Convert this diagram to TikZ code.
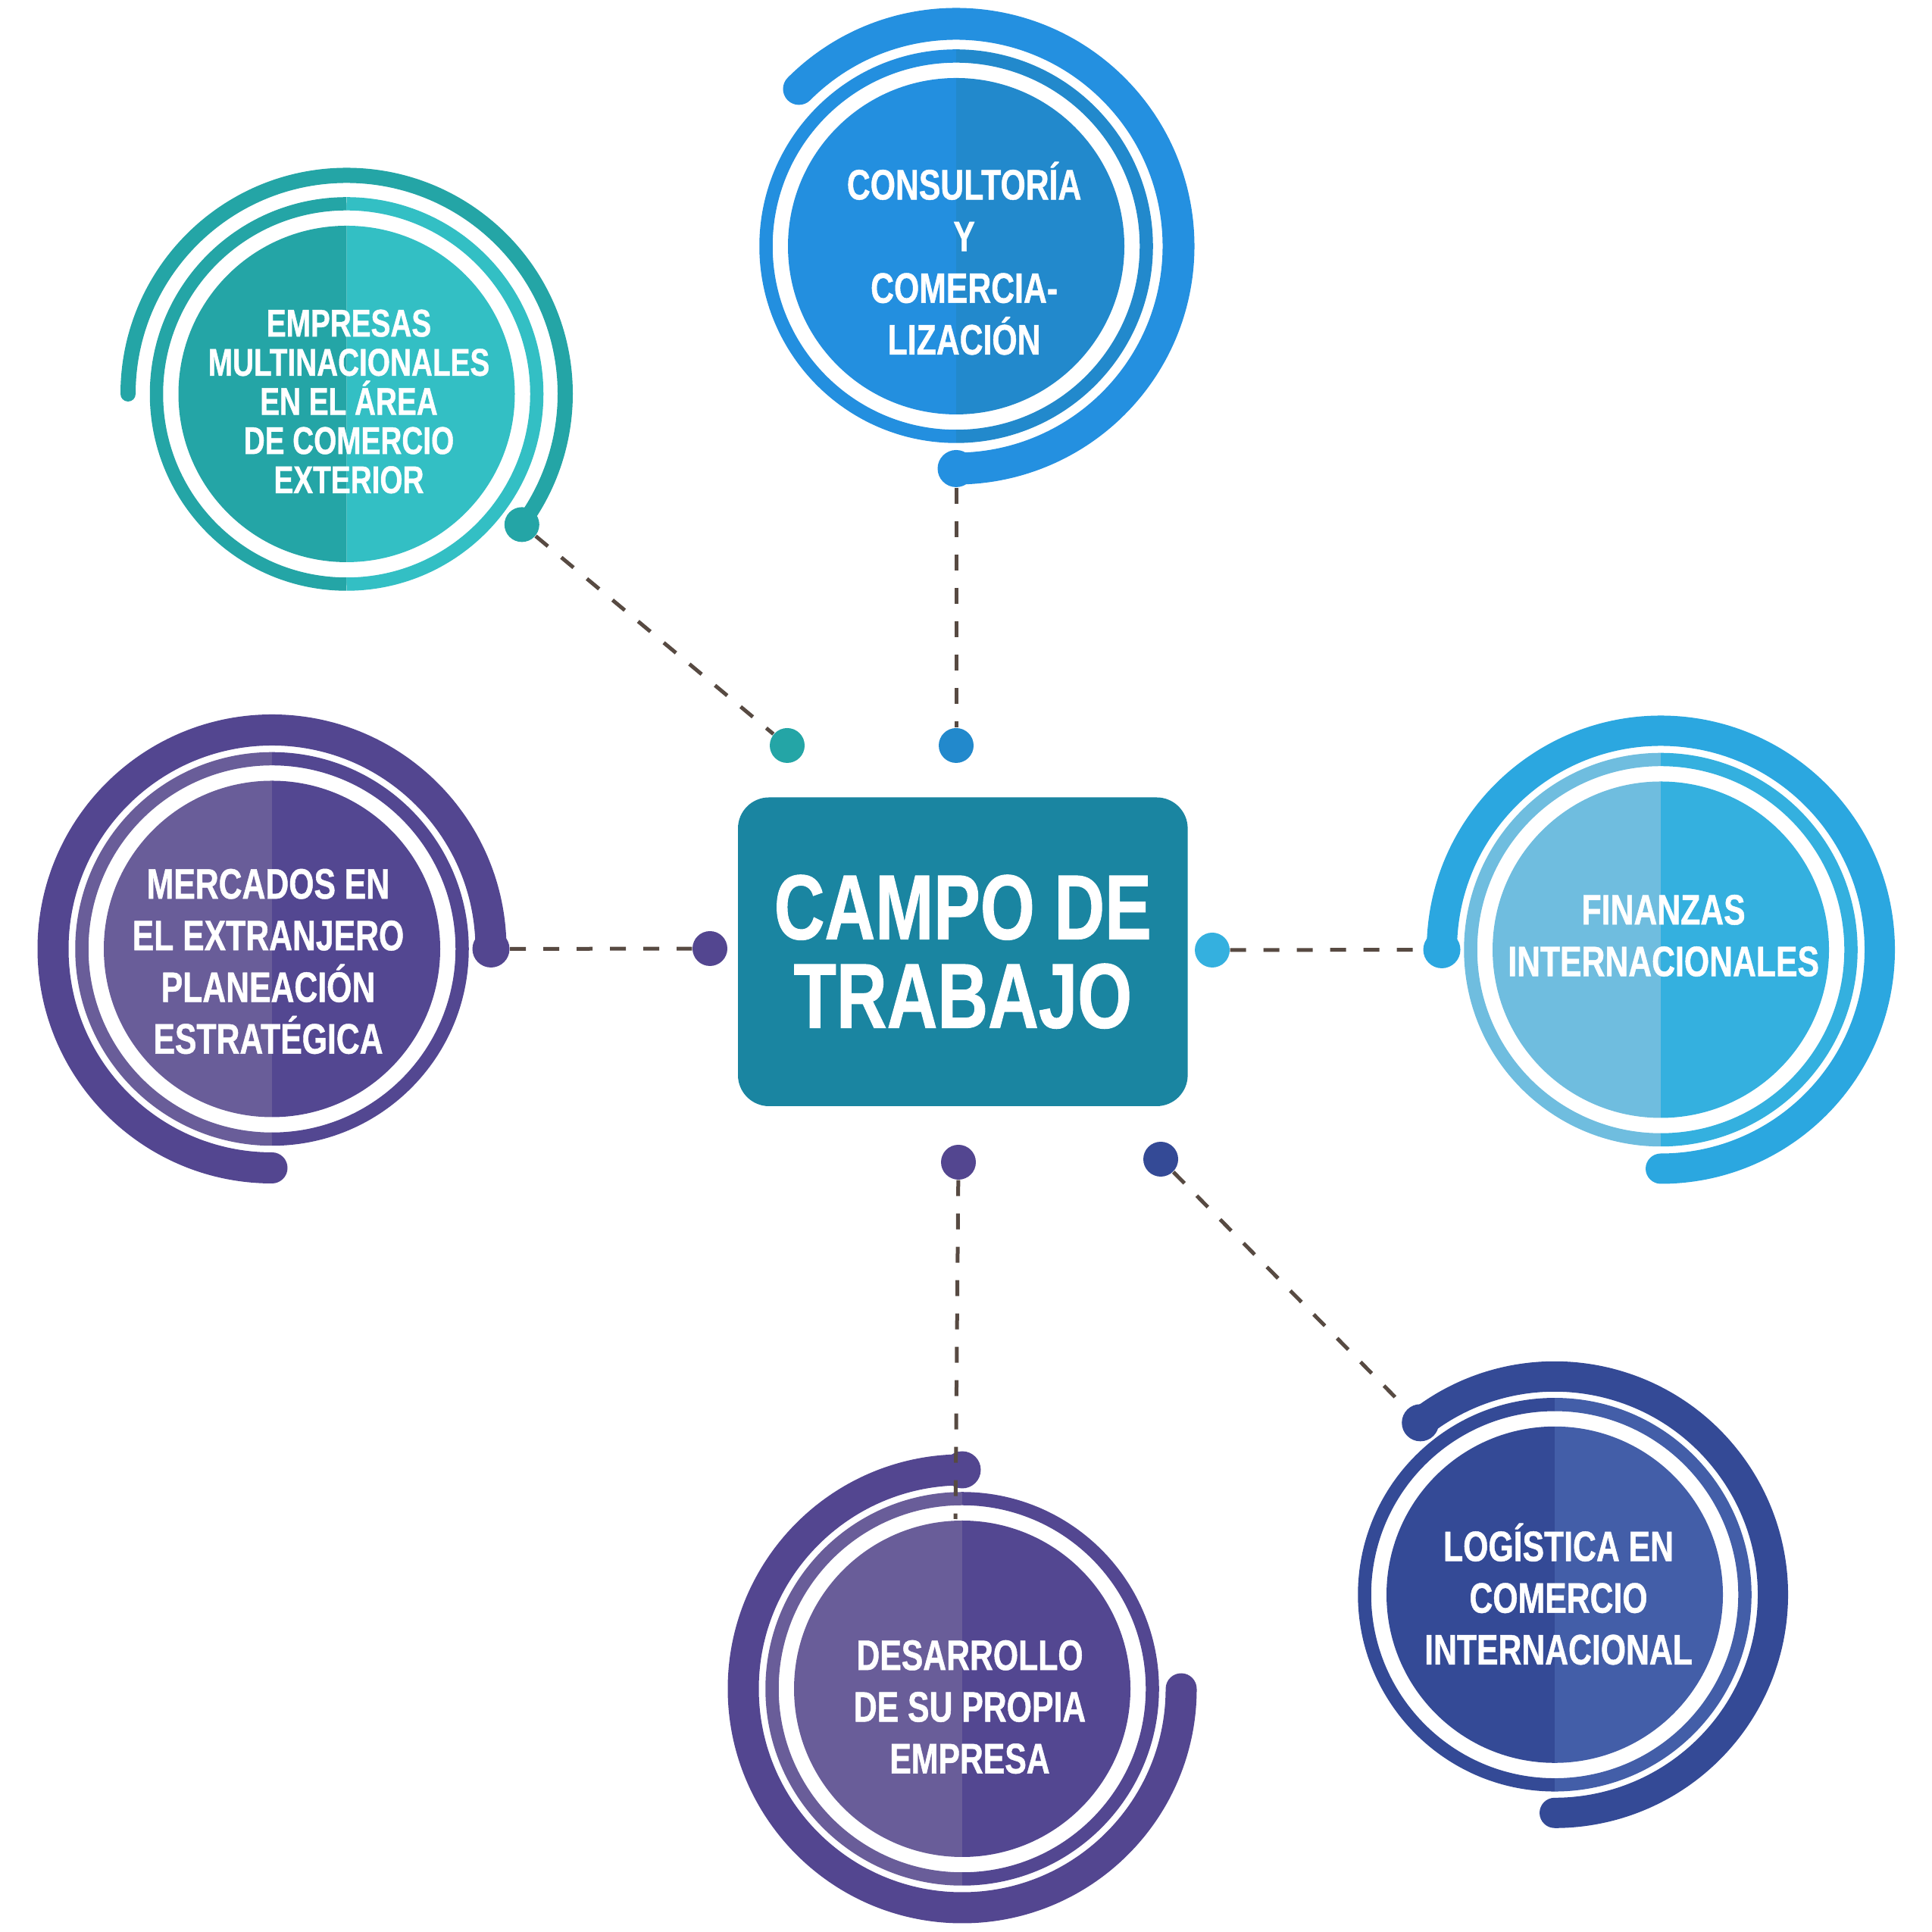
\documentclass[tikz,border=0pt]{standalone}
\usepackage{fontspec}
\usepackage{tikz}
\usepackage{color}
\newfontfamily\diagfont{Liberation Sans}[FakeStretch=0.76, BoldFeatures={FakeBold=0.8}]

\definecolor{tealdark}{HTML}{24A5A6}
\definecolor{teallight}{HTML}{33BFC4}
\definecolor{bluearc}{HTML}{2490E0}
\definecolor{blueleft}{HTML}{238FDF}
\definecolor{blueright}{HTML}{2289CC}
\definecolor{purplearc}{HTML}{534690}
\definecolor{purpleleft}{HTML}{695D99}
\definecolor{purpleright}{HTML}{534791}
\definecolor{skyarc}{HTML}{2BA7E0}
\definecolor{skyleft}{HTML}{6FBDDF}
\definecolor{skyright}{HTML}{34B0DF}
\definecolor{navyleft}{HTML}{344A96}
\definecolor{navyright}{HTML}{435EA8}
\definecolor{boxteal}{HTML}{1A85A1}
\definecolor{dashbrown}{HTML}{574A42}

% #1 centre, #2 left half, #3 right half, #4 arc colour, #5 arc radius, #6 arc width, #7 start, #8 end
\newcommand{\bubble}[8]{%
  \fill[#2] (#1) ++(90:2.22) arc (90:270:2.22) -- cycle;
  \fill[#3] (#1) ++(-90:2.22) arc (-90:90:2.22) -- cycle;
  \draw[#2, line width=0.175cm] (#1) ++(90:2.51) arc (90:270:2.51);
  \draw[#3, line width=0.175cm] (#1) ++(-90:2.51) arc (-90:90:2.51);
  \draw[#4, line width=#6, line cap=round] (#1) ++(#7:#5) arc (#7:#8:#5);
}

\begin{document}
\begin{tikzpicture}[
  hubdot/.style={circle, inner sep=0pt, minimum size=0.46cm},
  enddot/.style={circle, inner sep=0pt, minimum size=0.49cm},
  dashlink/.style={dashbrown, line width=0.05cm, dash pattern=on 0.21cm off 0.23cm},
  bubble text/.style={text=white, align=center, inner sep=0pt,
    font=\diagfont\bfseries\fontsize{16}{19.4}\selectfont},
  hub box/.style={fill=boxteal, rounded corners=0.41cm, minimum width=5.936cm,
    minimum height=4.075cm, text=white, align=center,
    font=\diagfont\bfseries\fontsize{34.6}{33.3}\selectfont}
]
\useasboundingbox (0,0) rectangle (25.5,25.5);

\coordinate (cEmp) at (4.575,20.30);
\coordinate (cCon) at (12.62,22.25);
\coordinate (cMer) at (3.59,12.975);
\coordinate (cFin) at (21.92,12.965);
\coordinate (cLog) at (20.52,4.452);
\coordinate (cDes) at (12.70,3.21);

\bubble{cEmp}{tealdark}{teallight}{tealdark}{2.885}{0.20cm}{180}{-36.7}
\bubble{cCon}{blueleft}{blueright}{bluearc}{2.935}{0.42cm}{135}{-90}
\bubble{cMer}{purpleleft}{purpleright}{purplearc}{2.89}{0.41cm}{0}{270}
\bubble{cFin}{skyleft}{skyright}{skyarc}{2.89}{0.40cm}{180}{-90}
\bubble{cLog}{navyleft}{navyright}{navyleft}{2.88}{0.40cm}{128}{-90}
\bubble{cDes}{purpleleft}{purpleright}{purplearc}{2.89}{0.41cm}{90}{360}

\node[hubdot, fill=tealdark] (endEmp) at ([shift={(-36.7:2.885)}]cEmp) {};
\node[enddot, fill=bluearc] (endCon) at ([shift={(-90:2.935)}]cCon) {};
\node[enddot, fill=purplearc] (endMer) at ([shift={(0:2.89)}]cMer) {};
\node[enddot, fill=skyarc] (endFin) at ([shift={(180:2.89)}]cFin) {};
\node[enddot, fill=navyleft] (endLog) at ([shift={(128:2.88)}]cLog) {};
\node[enddot, fill=purplearc] (endDes) at ([shift={(90:2.89)}]cDes) {};
\coordinate (desTop) at (12.61,5.45);

\node[bubble text, font=\diagfont\bfseries\fontsize{14.5}{14.7}\selectfont] (empresas) at (4.605,20.20)
  {EMPRESAS\\MULTINACIONALES\\EN EL ÁREA\\DE COMERCIO\\EXTERIOR};
\node[bubble text] (consultoria) at (12.726,22.09) {CONSULTORÍA\\Y\\COMERCIA-\\LIZACIÓN};
\node[bubble text] (mercados) at (3.54,12.81) {MERCADOS EN\\EL EXTRANJERO\\PLANEACIÓN\\ESTRATÉGICA};
\node[bubble text] (finanzas) at (21.956,13.15) {FINANZAS\\INTERNACIONALES};
\node[bubble text] (logistica) at (20.57,4.46) {LOGÍSTICA EN\\COMERCIO\\INTERNACIONAL};
\node[bubble text] (desarrollo) at (12.80,2.97) {DESARROLLO\\DE SU PROPIA\\EMPRESA};

\node[hub box] (campo) at (12.708,12.9375) {CAMPO DE\\TRABAJO};

\node[hubdot, fill=tealdark] (hubEmp) at (10.39,15.66) {};
\node[hubdot, fill=blueright] (hubCon) at (12.62,15.66) {};
\node[hubdot, fill=purplearc] (hubMer) at (9.37,12.98) {};
\node[hubdot, fill=skyright] (hubFin) at (16.00,12.96) {};
\node[hubdot, fill=purplearc] (hubDes) at (12.65,10.16) {};
\node[hubdot, fill=navyleft] (hubLog) at (15.32,10.20) {};

\draw[dashlink] (endEmp) -- (hubEmp);
\draw[dashlink] (endCon) -- (hubCon);
\draw[dashlink] (endMer) -- (hubMer);
\draw[dashlink] (hubFin) -- (endFin);
\draw[dashlink] (hubLog) -- (endLog);
\draw[dashlink] (hubDes) -- (desTop);

\end{tikzpicture}
\end{document}
